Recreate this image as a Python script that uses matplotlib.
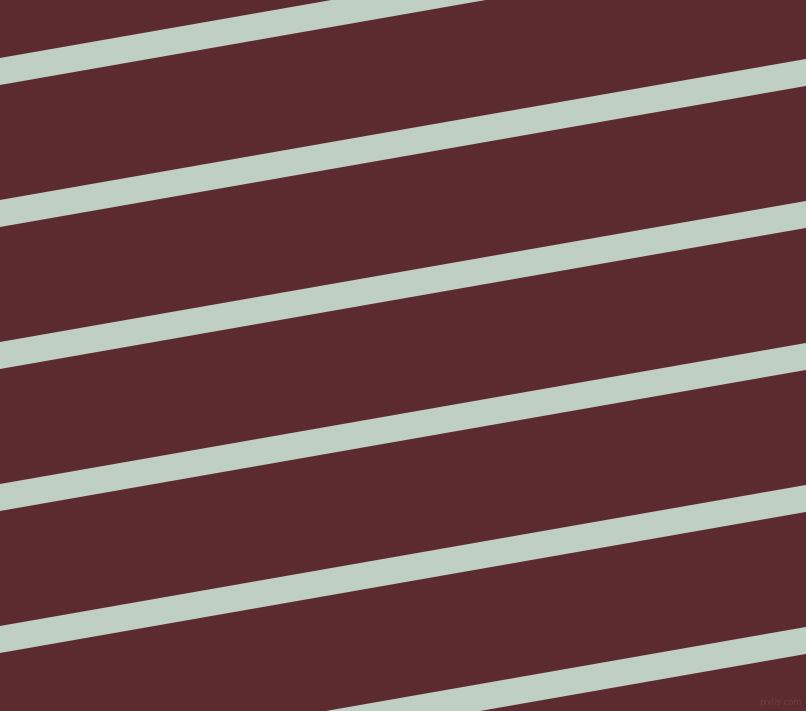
import matplotlib
matplotlib.use("Agg")
import matplotlib.pyplot as plt
import numpy as np

# Stripe data (centre height at left edge, in pixels from top)
stripe_centers = [-70.5, 71.5, 213.5, 355.5, 497.5, 639.5, 781.5]
stripe_drop = 0.175          # rise per pixel (stripes go up to the right)
stripe_thickness = 27        # vertical thickness
bg_color = "#5c2b2f"
stripe_color = "#c0cfc3"

W, H = 806, 711
fig = plt.figure(figsize=(W / 100, H / 100), dpi=100)
ax = fig.add_axes([0, 0, 1, 1])
ax.set_facecolor(bg_color)
fig.patch.set_facecolor(bg_color)

x = np.array([0, W])
for c in stripe_centers:
    yc = c - stripe_drop * x
    ax.fill_between(x, yc - stripe_thickness / 2, yc + stripe_thickness / 2,
                    color=stripe_color, linewidth=0, antialiased=True)

ax.text(W - 4, H - 4, "pixlis.com", ha="right", va="bottom",
        fontsize=6, color="#6e3d41")

ax.set_xlim(0, W)
ax.set_ylim(H, 0)
ax.axis("off")
fig.savefig("out.png", dpi=100, facecolor=bg_color)
